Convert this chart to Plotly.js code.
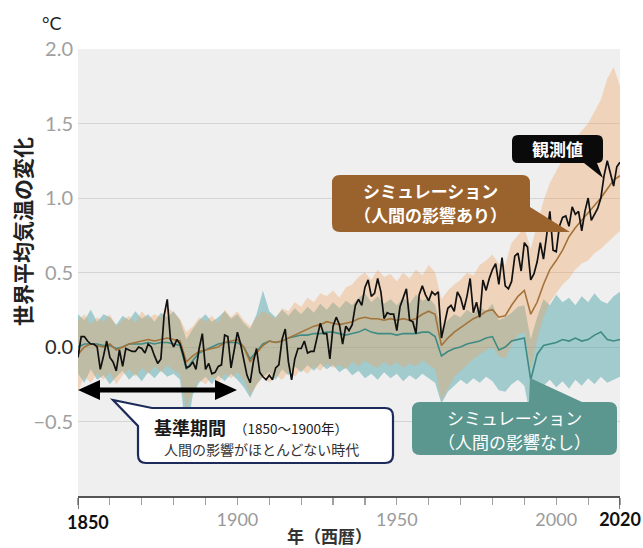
<!DOCTYPE html>
<html><head><meta charset="utf-8">
<script src="https://cdn.plot.ly/plotly-3.0.1.min.js"></script>
<style>html,body{margin:0;padding:0;background:#fff;} #chart{width:643px;height:548px;}</style>
</head><body><div id="chart"></div>
<script>
// ---------- data ----------
const obsStart = 1850, obsEnd = 2020;
const observed = [
 -0.07, 0.07, 0.07, 0.04, 0.02, 0.02, 0.00, -0.15, -0.06, 0.04,
 -0.07, -0.10, -0.16, -0.02, -0.13, -0.01, -0.02, -0.03, -0.03, 0.00,
 -0.01, -0.04, 0.02, 0.00, -0.06, -0.11, -0.08, 0.21, 0.32, 0.05,
 0.00, 0.05, 0.02, -0.05, -0.14, -0.13, -0.10, -0.15, -0.01, 0.09,
 -0.15, -0.11, -0.18, -0.17, -0.13, -0.12, 0.08, 0.07, -0.14, -0.01,
 0.10, 0.02, -0.09, -0.19, -0.24, -0.10, -0.01, -0.17, -0.20, -0.22,
 -0.19, -0.22, -0.14, -0.12, 0.05, 0.12, -0.10, -0.22, -0.08, -0.01,
 -0.01, 0.04, -0.04, -0.03, -0.03, 0.06, 0.16, 0.09, 0.09, -0.08,
 0.14, 0.20, 0.15, 0.02, 0.14, 0.11, 0.15, 0.28, 0.32, 0.28,
 0.40, 0.45, 0.34, 0.36, 0.46, 0.37, 0.19, 0.23, 0.22, 0.22,
 0.11, 0.27, 0.33, 0.39, 0.18, 0.17, 0.09, 0.35, 0.41, 0.35,
 0.31, 0.37, 0.35, 0.37, 0.06, 0.17, 0.26, 0.28, 0.24, 0.37,
 0.33, 0.25, 0.34, 0.46, 0.23, 0.30, 0.20, 0.45, 0.38, 0.46,
 0.52, 0.56, 0.42, 0.60, 0.41, 0.39, 0.44, 0.61, 0.63, 0.51,
 0.70, 0.67, 0.45, 0.49, 0.57, 0.70, 0.59, 0.75, 0.91, 0.65,
 0.64, 0.81, 0.87, 0.88, 0.81, 0.94, 0.89, 0.91, 0.78, 0.91,
 1.00, 0.85, 0.89, 0.93, 1.00, 1.15, 1.25, 1.17, 1.08, 1.21,
 1.24
];
const simStep = 2;
// human + natural simulation (brown)
const histMean = [
 -0.05, 0.00, 0.02, 0.01, 0.00,
 0.02, -0.02, 0.00, 0.02, 0.03,
 0.04, 0.05, 0.04, 0.05, 0.06,
 0.05, 0.04, -0.10, -0.06, -0.03,
 -0.02, -0.01, 0.00, 0.03, 0.04,
 0.05, 0.00, -0.10, -0.04, 0.01,
 0.04, 0.03, 0.04, 0.06, 0.08,
 0.10, 0.12, 0.14, 0.15, 0.17,
 0.16, 0.15, 0.16, 0.17, 0.19,
 0.20, 0.19, 0.19, 0.18, 0.19,
 0.18, 0.19, 0.18, 0.19, 0.22,
 0.24, 0.22, 0.01, 0.06, 0.10,
 0.13, 0.16, 0.19, 0.21, 0.24,
 0.25, 0.20, 0.21, 0.28, 0.34,
 0.38, 0.22, 0.30, 0.42, 0.52,
 0.58, 0.65, 0.74, 0.80, 0.85,
 0.90, 0.95, 1.00, 1.06, 1.12,
 1.15
];
const histHigh = [
 0.18, 0.22, 0.15, 0.20, 0.17,
 0.22, 0.14, 0.18, 0.21, 0.16,
 0.24, 0.19, 0.22, 0.20, 0.27,
 0.23, 0.19, 0.10, 0.14, 0.20,
 0.17, 0.21, 0.16, 0.25, 0.20,
 0.24, 0.18, 0.14, 0.20, 0.24,
 0.22, 0.19, 0.26, 0.24, 0.30,
 0.27, 0.33, 0.30, 0.36, 0.34,
 0.38, 0.33, 0.40, 0.42, 0.47,
 0.50, 0.45, 0.52, 0.47, 0.49,
 0.44, 0.50, 0.46, 0.52, 0.48,
 0.55, 0.50, 0.32, 0.38, 0.42,
 0.45, 0.50, 0.48, 0.55, 0.58,
 0.62, 0.56, 0.55, 0.70, 0.75,
 0.80, 0.66, 0.82, 0.98, 1.10,
 1.18, 1.26, 1.32, 1.40, 1.45,
 1.50, 1.58, 1.66, 1.80, 1.88,
 1.75
];
const histLow = [
 -0.30, -0.20, -0.24, -0.18, -0.22,
 -0.17, -0.25, -0.19, -0.15, -0.20,
 -0.14, -0.18, -0.13, -0.17, -0.12,
 -0.16, -0.18, -0.42, -0.30, -0.22,
 -0.25, -0.20, -0.24, -0.18, -0.21,
 -0.17, -0.22, -0.32, -0.26, -0.20,
 -0.24, -0.19, -0.22, -0.17, -0.20,
 -0.15, -0.18, -0.13, -0.16, -0.11,
 -0.14, -0.12, -0.15, -0.10, -0.13,
 -0.09, -0.12, -0.14, -0.10, -0.13,
 -0.10, -0.14, -0.11, -0.13, -0.09,
 -0.12, -0.15, -0.36, -0.28, -0.20,
 -0.16, -0.12, -0.08, -0.05, -0.02,
 0.00, -0.06, -0.08, 0.02, 0.08,
 0.10, -0.15, 0.05, 0.20, 0.30,
 0.36, 0.42, 0.46, 0.52, 0.56,
 0.58, 0.63, 0.66, 0.70, 0.74,
 0.78
];
// natural-only simulation (teal)
const natMean = [
 0.00, 0.02, 0.02, 0.02, 0.01,
 0.01, -0.01, 0.00, 0.02, 0.02,
 0.02, 0.03, 0.02, 0.03, 0.03,
 0.02, 0.01, -0.15, -0.09, -0.04,
 -0.02, 0.00, 0.02, 0.03, 0.03,
 0.03, 0.00, -0.08, -0.03, 0.02,
 0.04, 0.03, 0.04, 0.06, 0.07,
 0.08, 0.08, 0.09, 0.09, 0.10,
 0.10, 0.09, 0.08, 0.09, 0.10,
 0.12, 0.10, 0.09, 0.09, 0.09,
 0.08, 0.09, 0.09, 0.09, 0.10,
 0.10, 0.07, -0.06, -0.03, -0.01,
 0.00, 0.02, 0.03, 0.04, 0.06,
 0.07, -0.02, 0.00, 0.04, 0.05,
 0.06, -0.22, -0.05, 0.01, 0.02,
 0.03, 0.05, 0.04, 0.06, 0.04,
 0.05, 0.08, 0.10, 0.05, 0.04,
 0.05
];
const natHigh = [
 0.22, 0.18, 0.25, 0.17, 0.22,
 0.20, 0.15, 0.21, 0.18, 0.24,
 0.19, 0.22, 0.17, 0.23, 0.20,
 0.24, 0.18, 0.05, 0.12, 0.18,
 0.22, 0.17, 0.20, 0.24, 0.19,
 0.22, 0.16, 0.12, 0.22, 0.38,
 0.24, 0.20, 0.25, 0.21, 0.26,
 0.22, 0.27, 0.23, 0.29, 0.25,
 0.30, 0.26, 0.31, 0.28, 0.33,
 0.36, 0.30, 0.34, 0.29, 0.32,
 0.28, 0.33, 0.29, 0.35, 0.31,
 0.33, 0.28, 0.12, 0.18, 0.22,
 0.20, 0.25, 0.22, 0.27, 0.24,
 0.29, 0.18, 0.20, 0.23, 0.27,
 0.28, 0.05, 0.20, 0.32, 0.28,
 0.35, 0.30, 0.33, 0.28, 0.34,
 0.30, 0.36, 0.31, 0.29, 0.34,
 0.37
];
const natLow = [
 -0.18, -0.24, -0.15, -0.22, -0.19,
 -0.25, -0.20, -0.16, -0.22, -0.18,
 -0.23, -0.17, -0.21, -0.16, -0.20,
 -0.18, -0.22, -0.60, -0.32, -0.24,
 -0.20, -0.25, -0.19, -0.23, -0.18,
 -0.22, -0.27, -0.34, -0.25, -0.20,
 -0.17, -0.22, -0.15, -0.19, -0.13,
 -0.17, -0.12, -0.16, -0.11, -0.15,
 -0.12, -0.17, -0.14, -0.19, -0.16,
 -0.21, -0.18, -0.22, -0.17, -0.21,
 -0.18, -0.23, -0.19, -0.22, -0.18,
 -0.21, -0.24, -0.38, -0.30, -0.26,
 -0.22, -0.25, -0.21, -0.24, -0.20,
 -0.23, -0.29, -0.30, -0.25, -0.22,
 -0.26, -0.48, -0.32, -0.26, -0.22,
 -0.27, -0.23, -0.28, -0.22, -0.26,
 -0.21, -0.25, -0.20, -0.24, -0.22,
 -0.20
];
const yTickVals = [-0.5, 0, 0.5, 1, 1.5, 2];
const yTickText = ['−0.5', '<span style="color:#2a2a2a">0.0</span>', '0.5', '1.0', '1.5', '2.0'];
const xTickLabels = {1900: '1900', 1950: '1950', 2000: '2000', 2020: '<span style="color:#111"><b>2020</b></span>'};

// ---------- build ----------
const obsYears = [];
for (let y = obsStart; y <= obsEnd; y++) obsYears.push(y);
const simYears = [];
for (let y = obsStart; y <= obsEnd; y += simStep) simYears.push(y);
const xTickVals = [];
for (let y = 1850; y <= 2020; y += 10) xTickVals.push(y);
const xTickText = xTickVals.map(v => xTickLabels[v] || '');

function band(hi, lo) {
  return {x: simYears.concat(simYears.slice().reverse()), y: hi.concat(lo.slice().reverse())};
}
const nb = band(natHigh, natLow), hb = band(histHigh, histLow);
const traces = [
  {x: nb.x, y: nb.y, mode: 'lines', fill: 'toself', fillcolor: 'rgba(78,164,168,0.48)', line: {width: 0}, hoverinfo: 'skip'},
  {x: hb.x, y: hb.y, mode: 'lines', fill: 'toself', fillcolor: 'rgba(240,160,95,0.36)', line: {width: 0}, hoverinfo: 'skip'},
  {x: simYears, y: natMean, mode: 'lines', line: {color: '#3f8b83', width: 1.6}},
  {x: simYears, y: histMean, mode: 'lines', line: {color: '#a3733a', width: 1.6}},
  {x: obsYears, y: observed, mode: 'lines', line: {color: '#111111', width: 1.7}}
];

// pixel -> paper helpers for decorations
const L0 = 78, W = 542, B0 = 496, H = 447;
const PX = X => ((X - L0) / W).toFixed(5);
const PY = Y => ((B0 - Y) / H).toFixed(5);
function path(cmds) {
  return cmds.map(c => {
    if (c[0] === 'Z') return 'Z';
    let s = c[0];
    for (let i = 1; i < c.length; i += 2) s += ' ' + PX(c[i]) + ',' + PY(c[i + 1]);
    return s;
  }).join(' ');
}
function shp(cmds, fill, line) {
  return {type: 'path', xref: 'paper', yref: 'paper', path: path(cmds), fillcolor: fill,
          line: line || {width: 0}, layer: 'above'};
}
const shapes = [
  // double arrow (base period)
  shp([['M',78,390],['L',100,380],['L',100,387.5],['L',215,387.5],['L',215,380],['L',237,390],['L',215,400],['L',215,392.5],['L',100,392.5],['L',100,400],['Z']], '#000'),
  // observed label box
  shp([['M',518,135],['L',597,135],['Q',603,135,603,141],['L',603,157],['Q',603,163,597,163],['L',603,178],['L',584,163],['L',518,163],['Q',512,163,512,157],['L',512,141],['Q',512,135,518,135],['Z']], '#0a0a0a'),
  // brown box
  shp([['M',340,175],['L',522,175],['Q',530,175,530,183],['L',530,207],['L',570,232],['L',340,232],['Q',332,232,332,224],['L',332,183],['Q',332,175,340,175],['Z']], '#9a622c'),
  // teal box
  shp([['M',420,402],['L',529,402],['L',530,378],['L',582,402],['L',609,402],['Q',617,402,617,410],['L',617,447],['Q',617,455,609,455],['L',420,455],['Q',412,455,412,447],['L',412,410],['Q',412,402,420,402],['Z']], '#5b978f'),
  // navy outlined box
  shp([['M',152,408],['L',385,408],['Q',393,408,393,416],['L',393,455],['Q',393,463,385,463],['L',146,463],['Q',138,463,138,455],['L',138,426],['L',113,400],['Z']], '#ffffff', {color: '#1d2b5b', width: 2.2}),
  // longer end ticks on x axis
  {type: 'line', xref: 'x', yref: 'paper', x0: 1850, x1: 1850, y0: 0, y1: -13 / H, line: {color: '#555', width: 1.5}},
  {type: 'line', xref: 'x', yref: 'paper', x0: 2020, x1: 2020, y0: 0, y1: -13 / H, line: {color: '#555', width: 1.5}}
];

const JP = 'Noto Sans CJK JP';
function ann(X, Y, text, size, color, opts) {
  return Object.assign({xref: 'paper', yref: 'paper', x: +PX(X), y: +PY(Y), text: text, showarrow: false,
    xanchor: 'center', yanchor: 'middle', borderpad: 0, font: {family: JP, size: size, color: color}}, opts || {});
}
const annotations = [
  ann(557.5, 149, '<b>観測値</b>', 17, '#ffffff'),
  ann(431, 190, '<b>シミュレーション</b>', 17, '#ffffff'),
  ann(431, 215, '<b>（人間の影響あり）</b>', 17, '#ffffff'),
  ann(514, 418, 'シミュレーション', 17, '#ffffff'),
  ann(514, 442, '（人間の影響なし）', 17, '#ffffff'),
  ann(153, 427, '<b>基準期間</b>', 18, '#1a1a1a', {xanchor: 'left'}),
  ann(233, 428, '（1850〜1900年）', 13.5, '#1a1a1a', {xanchor: 'left'}),
  ann(261, 449, '人間の影響がほとんどない時代', 14, '#333333'),
  ann(52, 23, '°C', 18, '#222222', {font: {family: 'Lato', size: 18, color: '#222'}}),
  ann(330, 535, '<b>年（西暦）</b>', 17, '#333333'),
  ann(22, 232, '<b>世界平均気温の変化</b>', 21, '#222222', {textangle: -90}),
  ann(88, 522, '<b>1850</b>', 18, '#111111', {font: {family: 'Lato', size: 18, color: '#111'}})
];

const layout = {
  width: 643, height: 548,
  margin: {l: 78, r: 23, t: 49, b: 52},
  paper_bgcolor: '#ffffff', plot_bgcolor: '#efefef',
  showlegend: false,
  xaxis: {range: [1850, 2020], tickmode: 'array', tickvals: xTickVals, ticktext: xTickText,
    ticks: 'outside', ticklen: 7, tickwidth: 1.2, tickcolor: '#a0a0a0',
    showline: true, linecolor: '#555555', linewidth: 1.5, showgrid: false, zeroline: false,
    tickfont: {family: 'Lato', size: 18, color: '#9a9a9a'}, fixedrange: true},
  yaxis: {range: [-1, 2], tickmode: 'array', tickvals: yTickVals, ticktext: yTickText,
    showgrid: true, gridcolor: '#d4d4d4', gridwidth: 1, zeroline: false, showline: false, ticks: '',
    ticklabelstandoff: 4,
    tickfont: {family: 'Lato', size: 20, color: '#a0a0a0'}, fixedrange: true},
  shapes: shapes,
  annotations: annotations
};
Plotly.newPlot('chart', traces, layout, {staticPlot: true, displayModeBar: false});
</script>
</body></html>
